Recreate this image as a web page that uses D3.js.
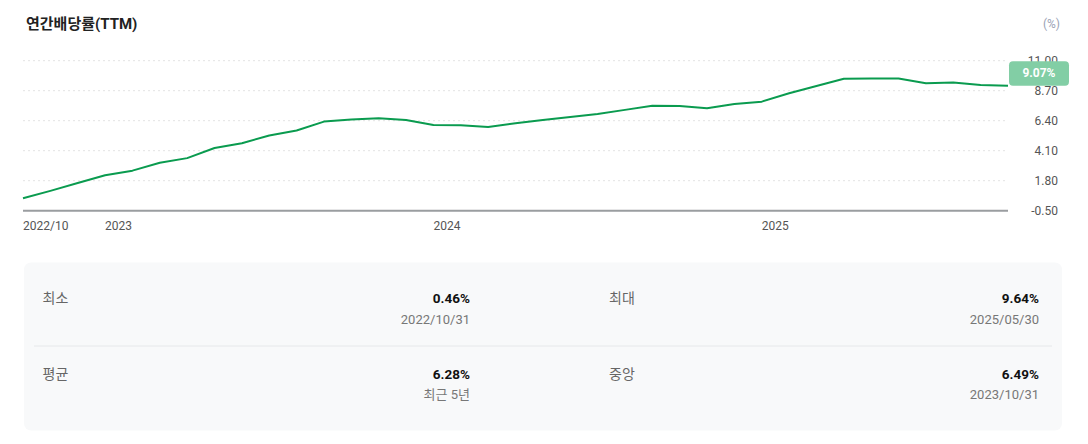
<!DOCTYPE html>
<html>
<head>
<meta charset="utf-8">
<script src="https://cdn.jsdelivr.net/npm/d3@7"></script>
<style>
  html, body { margin: 0; padding: 0; background: #fff; }
  svg { display: block; font-family: Roboto, "Noto Sans CJK KR", sans-serif; }
</style>
</head>
<body>
<svg id="chart" width="1088" height="444"></svg>
<script>
// ---- data ----
const months = [
  "2022/10","2022/11","2022/12",
  "2023/01","2023/02","2023/03","2023/04","2023/05","2023/06","2023/07","2023/08","2023/09","2023/10","2023/11","2023/12",
  "2024/01","2024/02","2024/03","2024/04","2024/05","2024/06","2024/07","2024/08","2024/09","2024/10","2024/11","2024/12",
  "2025/01","2025/02","2025/03","2025/04","2025/05","2025/06","2025/07","2025/08","2025/09","2025/10"
];
const yieldValues = [
  0.46, 1.02, 1.62,
  2.22, 2.57, 3.18, 3.53, 4.31, 4.67, 5.27, 5.65, 6.33, 6.49, 6.59, 6.46,
  6.07, 6.05, 5.92, 6.20, 6.46, 6.69, 6.92, 7.23, 7.55, 7.53, 7.35, 7.68,
  7.86, 8.50, 9.06, 9.62, 9.64, 9.63, 9.27, 9.32, 9.14, 9.07
];
const yTicks = [-0.5, 1.8, 4.1, 6.4, 8.7, 11.0];
const xTickMonths = ["2022/10", "2023/01", "2024/01", "2025/01"];
const xTickLabels = ["2022/10", "2023", "2024", "2025"];
const statLabels = ["최소", "최대", "평균", "중앙"];
const statValues = ["0.46%", "9.64%", "6.28%", "6.49%"];
const statSubs = ["2022/10/31", "2025/05/30", "최근 5년", "2023/10/31"];
const title = "연간배당률(TTM)";
const unitLabel = "(%)";

// ---- chart ----
const svg = d3.select("#chart");
const x = d3.scalePoint().domain(months).range([23, 1008]);
const y = d3.scaleLinear().domain([-0.5, 11]).range([210.7, 60.7]);

svg.append("text")
  .attr("x", 26).attr("y", 24)
  .attr("dominant-baseline", "central")
  .attr("font-size", 15).attr("font-weight", 700)
  .attr("fill", "#222")
  .text(title);

svg.append("text")
  .attr("x", 1060).attr("y", 24)
  .attr("text-anchor", "end")
  .attr("dominant-baseline", "central")
  .attr("font-size", 12)
  .attr("fill", "#9aa3b5")
  .text(unitLabel);

// gridlines
svg.append("g").selectAll("line")
  .data(yTicks.filter(t => t !== -0.5))
  .join("line")
  .attr("x1", 23).attr("x2", 1008)
  .attr("y1", d => y(d)).attr("y2", d => y(d))
  .attr("stroke", "#e3e3e3")
  .attr("stroke-width", 1)
  .attr("stroke-dasharray", "2,3");

// baseline axis
svg.append("line")
  .attr("x1", 23).attr("x2", 1008)
  .attr("y1", y(-0.5)).attr("y2", y(-0.5))
  .attr("stroke", "#9a9da0")
  .attr("stroke-width", 2);

// y labels
svg.append("g").selectAll("text")
  .data(yTicks)
  .join("text")
  .attr("x", 1058)
  .attr("y", d => y(d))
  .attr("text-anchor", "end")
  .attr("dominant-baseline", "central")
  .attr("font-size", 12)
  .attr("fill", "#555")
  .text(d => d.toFixed(2));

// x labels
svg.append("g").selectAll("text")
  .data(xTickMonths)
  .join("text")
  .attr("x", d => x(d))
  .attr("y", 226)
  .attr("text-anchor", "start")
  .attr("dominant-baseline", "central")
  .attr("font-size", 12)
  .attr("fill", "#555")
  .text((d, i) => xTickLabels[i]);

// line
const line = d3.line()
  .x((d, i) => x(months[i]))
  .y(d => y(d));
svg.append("path")
  .datum(yieldValues)
  .attr("d", line)
  .attr("fill", "none")
  .attr("stroke", "#0a9b4f")
  .attr("stroke-width", 2)
  .attr("stroke-linejoin", "round");

// last value badge
const lastV = yieldValues[yieldValues.length - 1];
const lastY = y(lastV);
const badge = svg.append("g");
badge.append("rect")
  .attr("x", 1009).attr("y", lastY - 24.5)
  .attr("width", 60).attr("height", 24.5)
  .attr("rx", 4)
  .attr("fill", "#82cea5");
badge.append("text")
  .attr("x", 1039).attr("y", lastY - 12.5)
  .attr("text-anchor", "middle")
  .attr("dominant-baseline", "central")
  .attr("font-size", 12).attr("font-weight", 700)
  .attr("fill", "#fff")
  .text(lastV.toFixed(2) + "%");

// ---- stats panel ----
svg.append("rect")
  .attr("x", 24).attr("y", 262.5)
  .attr("width", 1038).attr("height", 168)
  .attr("rx", 7)
  .attr("fill", "#f8f9fa");

svg.append("line")
  .attr("x1", 34).attr("x2", 1052)
  .attr("y1", 346).attr("y2", 346)
  .attr("stroke", "#e6e8ea").attr("stroke-width", 1);

const colLeft = [42.5, 609];
const colRight = [470, 1039];
const rowTop = [298, 373.5];
const stats = svg.append("g").selectAll("g")
  .data(statLabels)
  .join("g");
stats.append("text")
  .attr("x", (d, i) => colLeft[i % 2])
  .attr("y", (d, i) => rowTop[Math.floor(i / 2)])
  .attr("dominant-baseline", "central")
  .attr("font-size", 14)
  .attr("fill", "#666")
  .text(d => d);
stats.append("text")
  .attr("x", (d, i) => colRight[i % 2])
  .attr("y", (d, i) => rowTop[Math.floor(i / 2)])
  .attr("text-anchor", "end")
  .attr("dominant-baseline", "central")
  .attr("font-size", 13.5).attr("font-weight", 700)
  .attr("fill", "#111")
  .text((d, i) => statValues[i]);
stats.append("text")
  .attr("x", (d, i) => colRight[i % 2])
  .attr("y", (d, i) => rowTop[Math.floor(i / 2)] + 21)
  .attr("text-anchor", "end")
  .attr("dominant-baseline", "central")
  .attr("font-size", 13)
  .attr("fill", "#777")
  .text((d, i) => statSubs[i]);
</script>
</body>
</html>
